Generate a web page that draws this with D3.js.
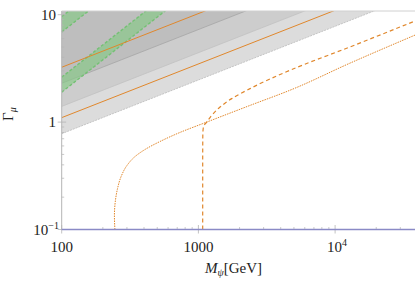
<!DOCTYPE html>
<html>
<head>
<meta charset="utf-8">
<script src="https://cdn.jsdelivr.net/npm/d3@7.9.0/dist/d3.min.js"></script>
<style>
  body { margin: 0; background: #fff; }
  text { font-family: "Liberation Serif", "DejaVu Serif", serif; fill: #222; }
</style>
</head>
<body>
<svg id="chart" width="415" height="282"></svg>
<script>
// mass ends used for the straight (log-log) lines
const massEnds = [100, 40000];
// gray exclusion boundaries, Gamma at M = 100 and M = 40000
const darkEdge = [2.3, 46];
const midEdge = [1.4, 28];
const lightEdge = [0.78, 15.6];
// orange solid lines
const orangeUpper = [3.24, 64.8];
const orangeLower = [1.1, 22];
// green bands, Gamma at M = 100 and M = 1000
const greenMass = [100, 1000];
const greenA = { lo: [6.9, 69], hi: [9.6, 96] };
const greenB = { lo: [1.9, 19], hi: [2.62, 26.2] };
// dotted orange curve
const dottedM = [245, 243, 247, 256, 272, 300, 344, 407, 524, 733, 1150, 2385, 4677, 12850, 40000];
const dottedG = [0.1, 0.134, 0.185, 0.24, 0.311, 0.394, 0.478, 0.556, 0.66, 0.801, 1.0, 1.43, 1.98, 3.54, 6.6];
// dashed orange curve
const dashedM = [1075, 1075, 1077, 1089, 1150, 1251, 1439, 1752, 2385, 4677, 12850, 40000];
const dashedG = [0.1, 0.4, 0.75, 0.91, 1.0, 1.155, 1.38, 1.654, 2.05, 3.04, 5.01, 8.92];
// bottom line
const baseG = 0.1;

const xTicks = [100, 1000, 10000];
const yTicks = [0.1, 1, 10];

const svg = d3.select("#chart");
const pLeft = 61.7, pRight = 417.4, pTop = 11, pBottom = 229.5;

const x = d3.scaleLog().domain([100, 40000]).range([pLeft, pRight]);
const y = d3.scaleLog().domain([0.1, 10]).range([pBottom, 14.7]);

svg.append("defs").append("clipPath").attr("id", "clip")
  .append("rect").attr("x", pLeft).attr("y", pTop)
  .attr("width", pRight - pLeft).attr("height", pBottom - pTop);

const plot = svg.append("g").attr("clip-path", "url(#clip)");

const line = d3.line().x(d => x(d[0])).y(d => y(d[1]));
const smooth = d3.line().x(d => x(d[0])).y(d => y(d[1])).curve(d3.curveMonotoneY);
const pts = (ms, gs) => ms.map((m, i) => [m, gs[i]]);

// gray regions (everything above an edge)
function above(edge) {
  const p = pts(massEnds, edge);
  return p.concat([[massEnds[1], 1000], [massEnds[0], 1000]]);
}
[[lightEdge, "#dcdcdc"], [midEdge, "#cdcdcd"], [darkEdge, "#bebebe"]].forEach(([e, c]) => {
  plot.append("path").attr("d", line(above(e)) + "Z").attr("fill", c);
});
plot.append("path").attr("d", line(pts(massEnds, lightEdge)))
  .attr("fill", "none").attr("stroke", "#c4c4c4").attr("stroke-width", 1)
  .attr("stroke-dasharray", "2,1");
plot.append("path").attr("d", line(pts(massEnds, midEdge)))
  .attr("fill", "none").attr("stroke", "#c2c2c2").attr("stroke-width", 0.8);
plot.append("path").attr("d", line(pts(massEnds, darkEdge)))
  .attr("fill", "none").attr("stroke", "#a6a6a6").attr("stroke-width", 0.8);

// green bands
[greenA, greenB].forEach(b => {
  const lo = pts(greenMass, b.lo), hi = pts(greenMass, b.hi);
  plot.append("path").attr("d", line(lo.concat(hi.slice().reverse())) + "Z")
    .attr("fill", "#86c986").attr("fill-opacity", 0.65);
  [lo, hi].forEach(e => plot.append("path").attr("d", line(e))
    .attr("fill", "none").attr("stroke", "#74c074").attr("stroke-width", 1.4)
    .attr("stroke-dasharray", "3,2"));
});

const orange = "#e0872c";
plot.append("path").attr("d", line(pts(massEnds, orangeUpper)))
  .attr("fill", "none").attr("stroke", orange).attr("stroke-width", 1);
plot.append("path").attr("d", line(pts(massEnds, orangeLower)))
  .attr("fill", "none").attr("stroke", orange).attr("stroke-width", 1);
plot.append("path").attr("d", smooth(pts(dottedM, dottedG)))
  .attr("fill", "none").attr("stroke", orange).attr("stroke-width", 1)
  .attr("stroke-dasharray", "1.5,1");
plot.append("path").attr("d", smooth(pts(dashedM, dashedG)))
  .attr("fill", "none").attr("stroke", orange).attr("stroke-width", 1.2)
  .attr("stroke-dasharray", "4,3");

// frame
const axisColor = "#b4b4b4";
svg.append("line").attr("x1", pLeft).attr("x2", pLeft).attr("y1", pTop).attr("y2", pBottom)
  .attr("stroke", axisColor);
svg.append("line").attr("x1", pLeft).attr("x2", pRight).attr("y1", pTop).attr("y2", pTop)
  .attr("stroke", "#d0d0d0");

// ticks
const yMinor = [];
[0.1, 1].forEach(d => { for (let k = 2; k <= 9; k++) yMinor.push(d * k); });
yMinor.forEach(v => svg.append("line").attr("x1", pLeft).attr("x2", pLeft + 2.5)
  .attr("y1", y(v)).attr("y2", y(v)).attr("stroke", axisColor).attr("stroke-width", 0.7));
yTicks.forEach(v => svg.append("line").attr("x1", pLeft - 4).attr("x2", pLeft + 4.5)
  .attr("y1", y(v)).attr("y2", y(v)).attr("stroke", axisColor).attr("stroke-width", 0.8));

const xMinor = [];
[100, 1000, 10000].forEach(d => { for (let k = 2; k <= 9; k++) if (d * k <= 40000) xMinor.push(d * k); });
xMinor.forEach(v => svg.append("line").attr("x1", x(v)).attr("x2", x(v))
  .attr("y1", pBottom - 2.5).attr("y2", pBottom).attr("stroke", axisColor).attr("stroke-width", 0.7));
xTicks.forEach(v => svg.append("line").attr("x1", x(v)).attr("x2", x(v))
  .attr("y1", pBottom - 4.5).attr("y2", pBottom + 4).attr("stroke", axisColor).attr("stroke-width", 0.8));

// bottom line
svg.append("line").attr("x1", pLeft).attr("x2", pRight).attr("y1", y(baseG)).attr("y2", y(baseG))
  .attr("stroke", "#8a8ac6").attr("stroke-width", 1.6);

// labels
function powLabel(sel, base, exp) {
  sel.append("tspan").text(base);
  if (exp !== null) sel.append("tspan").attr("dy", -6).attr("font-size", 10).text(exp);
}
const fs = 15;
yTicks.forEach(v => {
  const t = svg.append("text").attr("font-size", fs).attr("text-anchor", "end")
    .attr("x", v === 0.1 ? 59 : 56).attr("y", y(v) + 5);
  if (v === 0.1) powLabel(t, "10", "\u22121");
  else powLabel(t, v === 1 ? "1" : "10", null);
});
xTicks.forEach(v => {
  const t = svg.append("text").attr("font-size", fs).attr("text-anchor", "middle")
    .attr("x", x(v) + (v === 10000 ? 2 : 0)).attr("y", 251.7);
  if (v === 10000) powLabel(t, "10", "4");
  else powLabel(t, String(v), null);
});

const xl = svg.append("text").attr("font-size", fs).attr("x", 205).attr("y", 273);
xl.append("tspan").attr("font-style", "italic").text("M");
xl.append("tspan").attr("font-style", "italic").attr("font-size", 10).attr("dy", 3).text("\u03c8");
xl.append("tspan").attr("dy", -3).text("[GeV]");

const yl = svg.append("text").attr("font-size", fs)
  .attr("transform", "translate(13,121) rotate(-90)");
yl.append("tspan").text("\u0393");
yl.append("tspan").attr("font-style", "italic").attr("font-size", 10).attr("dy", 3).text("\u03bc");
</script>
</body>
</html>
